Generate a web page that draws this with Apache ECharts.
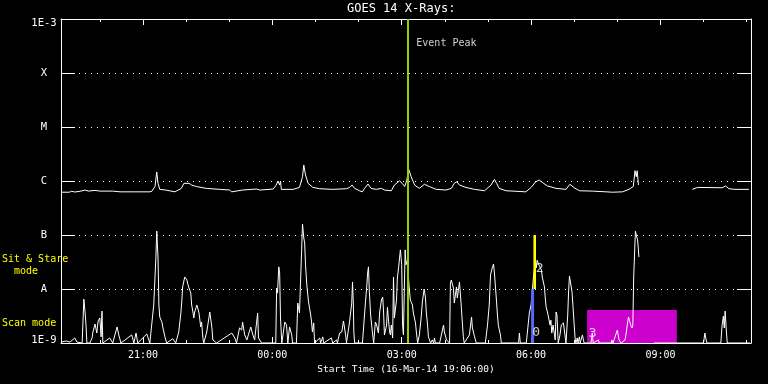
<!DOCTYPE html>
<html>
<head>
<meta charset="utf-8">
<script src="https://cdn.jsdelivr.net/npm/echarts@6/dist/echarts.min.js"></script>
<style>
html,body{margin:0;padding:0;background:#000;}
#chart{width:768px;height:384px;}
</style>
</head>
<body>
<div id="chart"></div>
<script>
// ---- data (time in hours since 00:00 16-Mar-2014; >24 = 17-Mar) ----
const titleText = 'GOES 14 X-Rays:';
const xAxisTitle = 'Start Time (16-Mar-14 19:06:00)';
const timeMin = 19.1, timeMax = 35.1;
const xMajorTicks = [21, 24, 27, 30, 33];
const xMinorTicks = [20, 21, 22, 23, 24, 25, 26, 27, 28, 29, 30, 31, 32, 33, 34, 35];
const yTickValues = [1e-9, 1e-8, 1e-7, 1e-6, 1e-5, 1e-4, 1e-3];
const yTickLabels = ['1E-9', 'A', 'B', 'C', 'M', 'X', '1E-3'];

// long-wavelength channel (1-8 A)
const upTime = [19.10,19.29,19.35,19.42,19.54,19.66,19.73,19.89,20.00,20.30,20.47,20.81,20.85,20.93,21.16,21.21,21.28,21.32,21.35,21.39,21.53,21.74,21.89,21.95,21.99,22.07,22.13,22.24,22.47,22.78,23.01,23.06,23.31,23.63,23.71,24.02,24.09,24.13,24.17,24.19,24.21,24.48,24.63,24.70,24.73,24.77,24.83,24.94,25.10,25.40,25.72,25.79,25.85,25.91,26.02,26.09,26.14,26.22,26.29,26.41,26.53,26.60,26.76,26.83,26.87,26.95,27.01,27.07,27.12,27.16,27.22,27.30,27.41,27.53,27.64,27.80,28.03,28.15,28.22,28.28,28.34,28.49,28.69,28.92,29.07,29.15,29.20,29.26,29.42,29.88,30.00,30.11,30.19,30.27,30.38,30.58,30.81,30.90,31.00,31.12,31.42,31.74,31.89,32.12,32.27,32.37,32.41,32.44,32.46,32.49,32.50,33.74,33.86,34.43,34.51,34.59,34.73,35.05];
const upFlux = [6.2e-7,6.2e-7,6.45e-7,6.25e-7,6.45e-7,6.8e-7,6.5e-7,6.7e-7,6.5e-7,6.5e-7,6.3e-7,6.3e-7,6.8e-7,6.3e-7,6.3e-7,6.5e-7,7.9e-7,1.47e-6,9.05e-7,7.0e-7,6.8e-7,6.3e-7,7.3e-7,9.05e-7,9.7e-7,9.05e-7,8.4e-7,7.9e-7,7.3e-7,7.0e-7,6.8e-7,6.3e-7,6.8e-7,7.1e-7,6.8e-7,7.1e-7,8.4e-7,1.0e-6,8.4e-7,1.0e-6,7.0e-7,7.0e-7,7.6e-7,1.2e-6,1.98e-6,1.29e-6,9.05e-7,7.6e-7,7.2e-7,7.0e-7,7.2e-7,7.6e-7,8.4e-7,7.3e-7,6.6e-7,6.3e-7,7.3e-7,8.8e-7,7.3e-7,7.0e-7,7.3e-7,6.8e-7,6.6e-7,8.4e-7,7.9e-7,1.01e-6,9.05e-7,7.9e-7,1.04e-6,1.67e-6,1.2e-6,8.4e-7,7.3e-7,8.7e-7,7.9e-7,7.0e-7,6.8e-7,7.3e-7,9.05e-7,9.7e-7,8.4e-7,7.6e-7,7.0e-7,6.6e-7,8.4e-7,1.07e-6,9.05e-7,7.3e-7,6.6e-7,6.3e-7,7.6e-7,9.7e-7,1.04e-6,9.3e-7,8.1e-7,7.3e-7,7.0e-7,8.7e-7,7.5e-7,6.6e-7,6.5e-7,6.3e-7,6.2e-7,6.3e-7,7.0e-7,7.9e-7,1.55e-6,1.2e-6,1.55e-6,8.4e-7,null,7.0e-7,7.6e-7,7.5e-7,8.1e-7,7.2e-7,7.0e-7,7.0e-7];

// short-wavelength channel (0.5-4 A)
const lowTime = [19.10,19.22,19.31,19.42,19.47,19.59,19.63,19.66,19.68,19.70,19.77,19.82,19.84,19.89,19.93,19.96,20.00,20.03,20.05,20.07,20.23,20.30,20.40,20.44,20.49,20.74,20.79,20.84,20.88,21.09,21.16,21.25,21.30,21.32,21.35,21.37,21.39,21.42,21.44,21.46,21.51,21.55,21.69,21.76,21.83,21.88,21.90,21.92,21.97,22.02,22.04,22.06,22.11,22.13,22.16,22.18,22.20,22.25,22.27,22.30,22.34,22.36,22.39,22.41,22.48,22.50,22.55,22.60,22.62,22.71,23.06,23.13,23.17,23.24,23.29,23.31,23.36,23.41,23.50,23.55,23.59,23.66,23.68,23.75,24.08,24.10,24.12,24.15,24.17,24.19,24.22,24.29,24.33,24.36,24.40,24.45,24.47,24.56,24.59,24.63,24.66,24.68,24.70,24.73,24.75,24.77,24.80,24.84,24.87,24.89,24.91,24.93,24.96,24.98,25.10,25.12,25.17,25.19,25.37,25.40,25.49,25.51,25.56,25.61,25.65,25.70,25.72,25.79,25.84,25.86,25.88,25.89,25.91,26.09,26.16,26.19,26.21,26.23,26.25,26.28,26.32,26.35,26.39,26.42,26.46,26.49,26.53,26.56,26.58,26.60,26.65,26.67,26.69,26.72,26.74,26.76,26.79,26.81,26.83,26.88,26.90,26.93,26.95,26.97,27.00,27.01,27.02,27.04,27.08,27.10,27.13,27.17,27.20,27.25,27.27,27.32,27.34,27.37,27.41,27.45,27.48,27.52,27.55,27.57,27.60,27.62,27.67,27.71,27.74,27.76,27.78,27.88,27.97,27.99,28.04,28.11,28.13,28.15,28.20,28.22,28.27,28.29,28.34,28.38,28.41,28.43,28.45,28.57,28.62,28.64,28.69,28.73,28.94,28.99,29.03,29.06,29.10,29.13,29.15,29.20,29.22,29.24,29.29,29.31,29.71,29.73,29.75,29.89,29.96,30.00,30.03,30.06,30.10,30.12,30.14,30.19,30.24,30.26,30.31,30.33,30.35,30.38,30.40,30.44,30.46,30.48,30.51,30.56,30.58,30.60,30.63,30.67,30.70,30.73,30.75,30.78,30.81,30.85,30.87,30.89,30.92,30.95,30.97,30.99,31.02,31.04,31.07,31.09,31.12,31.14,31.19,31.23,31.39,31.42,31.44,31.56,31.58,31.86,31.87,31.90,32.00,32.04,32.09,32.18,32.21,32.23,32.26,32.28,32.31,32.34,32.36,32.38,32.41,32.42,32.44,32.47,32.49,32.50,32.51,32.85,34.00,34.03,34.06,34.08,34.40,34.43,34.46,34.48,34.50,34.53,34.55,35.08];
const lowFlux = [1.04e-9,1.09e-9,1.04e-9,1.24e-9,1.04e-9,1.0e-9,6.5e-9,3.6e-9,2.15e-9,1.0e-9,1.0e-9,1.24e-9,1.6e-9,2.25e-9,1.53e-9,2.55e-9,2.9e-9,1.3e-9,3.9e-9,1.0e-9,1.24e-9,1.0e-9,1.98e-9,1.41e-9,1.0e-9,1.41e-9,1.0e-9,1.53e-9,1.0e-9,1.47e-9,1.0e-9,5.05e-9,3.76e-8,1.18e-7,3.76e-8,5.05e-9,3.03e-9,2.9e-9,2.45e-9,1.98e-9,1.3e-9,1.0e-9,1.2e-9,1.0e-9,1.6e-9,3.6e-9,5.75e-9,1.09e-8,1.67e-8,1.47e-8,1.24e-8,1.09e-8,8.4e-9,5.05e-9,3.75e-9,2.9e-9,3.75e-9,5.05e-9,4.45e-9,3.6e-9,1.98e-9,2.45e-9,1.24e-9,1.0e-9,1.6e-9,1.74e-9,3.75e-9,1.9e-9,1.14e-9,1.0e-9,1.53e-9,1.24e-9,1.0e-9,1.9e-9,1.74e-9,2.45e-9,1.41e-9,1.14e-9,1.98e-9,1.41e-9,1.14e-9,3.6e-9,1.24e-9,1.0e-9,1.0e-9,1.04e-8,8.4e-9,2.57e-8,1.98e-8,2.9e-9,1.0e-9,2.45e-9,2.15e-9,1.0e-9,1.98e-9,1.41e-9,1.0e-9,1.0e-9,5.5e-9,3.6e-9,3.75e-9,5.3e-8,1.6e-7,8.8e-8,7.1e-8,2.8e-8,1.18e-8,5.75e-9,4.1e-9,3.3e-9,2.45e-9,1.6e-9,2.35e-9,1.0e-9,1.24e-9,1.0e-9,1.3e-9,1.0e-9,1.24e-9,1.0e-9,1.14e-9,1.0e-9,1.53e-9,1.6e-9,2.55e-9,1.41e-9,1.0e-9,2.45e-9,5.3e-9,1.35e-8,5.05e-9,1.6e-9,1.0e-9,1.0e-9,5.75e-9,1.09e-8,1.98e-8,2.57e-8,8.8e-9,3.3e-9,1.6e-9,1.0e-9,2.45e-9,2.15e-9,1.53e-9,3.75e-9,6.25e-9,7.1e-9,3.75e-9,1.41e-9,2.15e-9,4.6e-9,2.9e-9,1.6e-9,1.41e-9,2.15e-9,1.24e-9,1.67e-8,2.9e-9,6.25e-9,1.6e-8,2.57e-8,3.76e-8,5.3e-8,2.8e-8,8.8e-9,2.15e-9,1.41e-9,5.3e-8,2.8e-8,3.4e-8,1.18e-8,6.25e-9,5.05e-9,3.6e-9,2.35e-9,1.6e-9,1.0e-9,1.41e-9,2.9e-9,5.75e-9,1.0e-8,7.1e-9,3.75e-9,2.15e-9,1.3e-9,1.0e-9,1.14e-9,1.0e-9,1.24e-9,1.0e-9,1.0e-9,2.15e-9,1.6e-9,1.14e-9,1.0e-9,1.29e-8,1.47e-8,1.04e-8,5.5e-9,1.09e-8,6.8e-9,1.35e-8,5.05e-9,2.15e-9,1.3e-9,1.0e-9,1.41e-9,3.03e-9,1.9e-9,1.3e-9,1.0e-9,1.0e-9,2.15e-9,5.05e-9,1.82e-8,2.46e-8,2.9e-8,1.98e-8,5.75e-9,3.3e-9,2.15e-9,1.41e-9,1.0e-9,1.0e-9,1.53e-9,1.0e-9,1.0e-9,3.6e-9,5.05e-9,9.6e-9,1.82e-8,3.2e-8,2.46e-8,3.4e-8,2.7e-8,2.25e-8,1.67e-8,1.09e-8,6.8e-9,4.6e-9,3.75e-9,3.6e-9,2.15e-9,2.65e-9,1.53e-9,2.15e-9,1.14e-9,3.75e-9,3.3e-9,1.0e-9,1.41e-9,2.15e-9,1.98e-9,2.35e-9,1.53e-9,1.0e-9,3.3e-9,8.8e-9,1.74e-8,1.67e-8,8.8e-9,5.05e-9,2.9e-9,1.24e-9,1.0e-9,1.24e-9,1.0e-9,1.3e-9,1.0e-9,1.41e-9,1.0e-9,1.0e-9,1.53e-9,1.0e-9,1.14e-9,1.0e-9,1.0e-9,1.14e-9,1.0e-9,1.74e-9,1.14e-9,1.0e-9,1.14e-9,1.6e-9,2.15e-9,3.03e-9,2.65e-9,2.15e-9,1.9e-9,2.15e-9,1.67e-8,7.4e-8,1.18e-7,1.0e-7,8.1e-8,5.3e-8,3.9e-8,null,1.0e-9,1.0e-9,1.53e-9,1.14e-9,1.0e-9,1.0e-9,2.15e-9,3.15e-9,1.9e-9,3.9e-9,1.6e-9,1.0e-9,1.0e-9];

const eventPeakTime = 27.13;
const eventLabelFlux = 3.6e-4;
const sitStareTime = [30.055, 30.115];
const sitStareFlux = [1e-8, 1e-7];
const scanTime = [30.0, 30.07];
const scanFlux = [1e-9, 1e-8];
const boxTime = [31.30, 33.38];
const boxFlux = [1e-9, 4.1e-9];
const noteText = ['0', '2', '3'];
const noteTime = [30.12, 30.20, 31.43];
const noteFlux = [1.56e-9, 2.35e-8, 1.5e-9];

// ---- chart ----
const FONT = 'DejaVu Sans Mono';
const pair = (t, v) => t.map((x, i) => [x, v[i] == null ? '-' : v[i]]);
const hourFmt = v => { const h = Math.round(v) % 24; return (h < 10 ? '0' : '') + h + ':00'; };
const yFmt = v => {
  const e = Math.round(Math.log10(v));
  const i = yTickValues.findIndex(t => Math.round(Math.log10(t)) === e);
  const s = i >= 0 ? yTickLabels[i] : '';
  if (e === -3) return '{t|' + s + '}';
  if (e === -9) return '{b|' + s + '}';
  return '{m|' + s + '}';
};

const chart = echarts.init(document.getElementById('chart'), null, {renderer: 'canvas'});
const xBase = (pos, major, showLabel, showLine) => ({
  type: 'value', gridIndex: 0, position: pos, min: timeMin, max: timeMax,
  axisLine: {show: showLine, onZero: false, lineStyle: {color: '#fff', width: 1}},
  axisTick: {show: true, inside: true, length: major ? 6 : 3, customValues: major ? xMajorTicks : xMinorTicks,
             lineStyle: {color: '#fff', width: 1}},
  axisLabel: {show: showLabel, customValues: xMajorTicks, formatter: hourFmt, color: '#fff',
              fontFamily: FONT, fontSize: 10, margin: 7},
  splitLine: {show: false}
});
const xMain = xBase('bottom', true, true, true);
xMain.name = xAxisTitle;
xMain.nameLocation = 'middle';
xMain.nameGap = 20;
xMain.nameTextStyle = {color: '#fff', fontFamily: FONT, fontSize: 9.5};

const yBase = (pos, showLabel, showSplit) => ({
  type: 'log', logBase: 10, gridIndex: 0, position: pos, min: 1e-9, max: 1e-3,
  axisLine: {show: true, onZero: false, lineStyle: {color: '#fff', width: 1}},
  axisTick: {show: true, inside: true, length: 14, customValues: yTickValues, lineStyle: {color: '#fff', width: 1}},
  axisLabel: {show: showLabel, customValues: yTickValues, formatter: yFmt, align: 'center', margin: 17,
              color: '#fff', fontFamily: FONT, fontSize: 10.5,
              rich: {t: {padding: [8, 0, 0, 0], color: '#fff', fontFamily: FONT, fontSize: 10.5},
                     b: {padding: [0, 0, 6, 0], color: '#fff', fontFamily: FONT, fontSize: 10.5},
                     m: {color: '#fff', fontFamily: FONT, fontSize: 10.5}}},
  splitLine: {show: showSplit, lineStyle: {color: '#fff', width: 1, type: [1, 5]}}
});

chart.setOption({
  backgroundColor: '#000',
  animation: false,
  title: {text: titleText, left: 347, top: 3, padding: 0,
          textStyle: {color: '#fff', fontFamily: FONT, fontSize: 12, fontWeight: 'normal'}},
  grid: {left: 61, top: 19, width: 690, height: 324, containLabel: false, outerBoundsMode: 'none'},
  xAxis: [xMain, xBase('bottom', false, false, false), xBase('top', true, false, true), xBase('top', false, false, false)],
  yAxis: [yBase('left', true, true), yBase('right', false, false)],
  graphic: [
    {type: 'text', left: 2, top: 253, silent: true,
     style: {text: 'Sit & Stare\n  mode', fill: '#ffff00', font: '10px ' + FONT, lineHeight: 12}},
    {type: 'text', left: 2, top: 318, silent: true,
     style: {text: 'Scan mode', fill: '#ffff00', font: '10px ' + FONT}}
  ],
  series: [
    {type: 'line', name: 'box', data: [], xAxisIndex: 0, yAxisIndex: 0, z: 1,
     markArea: {silent: true, z: 1, itemStyle: {color: '#cc00cc', opacity: 1},
                data: [[{coord: [boxTime[0], boxFlux[0]]}, {coord: [boxTime[1], boxFlux[1]]}]]}},
    {type: 'line', name: 'low', data: pair(lowTime, lowFlux), xAxisIndex: 0, yAxisIndex: 0, z: 2,
     showSymbol: false, connectNulls: false, lineStyle: {color: '#fff', width: 1}, itemStyle: {color: '#fff'}},
    {type: 'line', name: 'up', data: pair(upTime, upFlux), xAxisIndex: 0, yAxisIndex: 0, z: 2,
     showSymbol: false, connectNulls: false, lineStyle: {color: '#fff', width: 1}, itemStyle: {color: '#fff'}},
    {type: 'line', name: 'modes', data: [], xAxisIndex: 0, yAxisIndex: 0, z: 4,
     markArea: {silent: true, z: 4, data: [
       [{coord: [sitStareTime[0], sitStareFlux[0]], itemStyle: {color: '#ffff00', opacity: 1}}, {coord: [sitStareTime[1], sitStareFlux[1]]}],
       [{coord: [scanTime[0], scanFlux[0]], itemStyle: {color: '#5566ff', opacity: 1}}, {coord: [scanTime[1], scanFlux[1]]}]
     ]},
     markLine: {silent: true, z: 6, symbol: ['none', 'none'], label: {show: false},
                lineStyle: {color: '#9acd00', width: 2, type: 'solid'},
                data: [{xAxis: eventPeakTime}]}},
    {type: 'scatter', name: 'notes', xAxisIndex: 0, yAxisIndex: 0, z: 7, symbolSize: 0,
     data: noteTime.map((t, i) => ({value: [t, noteFlux[i]], label: {formatter: noteText[i]}})),
     label: {show: true, position: 'inside', color: '#fff', fontFamily: FONT, fontSize: 13}},
    {type: 'scatter', name: 'eventlabel', xAxisIndex: 0, yAxisIndex: 0, z: 7, symbolSize: 0,
     data: [[eventPeakTime, eventLabelFlux]],
     label: {show: true, position: 'right', distance: 9, formatter: 'Event Peak', color: '#fff', fontFamily: FONT, fontSize: 10}}
  ]
});
</script>
</body>
</html>
